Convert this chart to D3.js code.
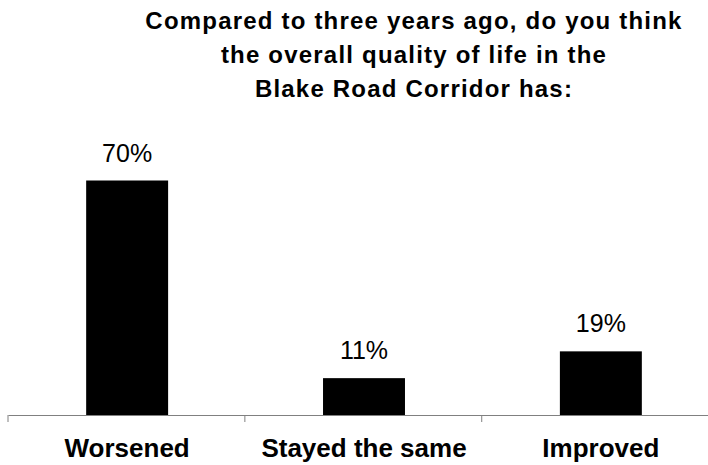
<!DOCTYPE html>
<html>
<head>
<meta charset="utf-8">
<script src="https://cdn.jsdelivr.net/npm/d3@7"></script>
<style>
  body { margin: 0; background: #fff; }
  text { font-family: "Liberation Sans", Arial, sans-serif; }
</style>
</head>
<body>
<script>
var categories = ["Worsened", "Stayed the same", "Improved"];
var values = [70, 11, 19];
var titleLines = ["Compared to three years ago, do you think",
                  "the overall quality of life in the",
                  "Blake Road Corridor has:"];

var width = 708, height = 465;
var margin = {top: 0, right: -12, bottom: 50, left: 8};

var svg = d3.select("body").append("svg")
    .attr("width", width)
    .attr("height", height);

// x bands run past the right edge, like the original
var x = d3.scaleBand()
    .domain(categories)
    .range([margin.left, width - margin.right])
    .paddingInner(0.654)
    .paddingOuter(0.33);

var y = d3.scaleLinear()
    .domain([0, 100])
    .range([415, 415 - 335]);

// bars
svg.selectAll(".bar")
    .data(values)
  .enter().append("rect")
    .attr("class", "bar")
    .attr("x", function(d, i) { return x(categories[i]); })
    .attr("y", function(d) { return y(d); })
    .attr("width", x.bandwidth())
    .attr("height", function(d) { return y(0) - y(d); })
    .attr("fill", "#000");

// value labels
svg.selectAll(".val")
    .data(values)
  .enter().append("text")
    .attr("class", "val")
    .attr("x", function(d, i) { return x(categories[i]) + x.bandwidth() / 2; })
    .attr("y", function(d) { return y(d) - 19; })
    .attr("text-anchor", "middle")
    .style("font-size", "25px")
    .text(function(d) { return d + "%"; });

// x axis
var xAxis = d3.axisBottom(x).tickSize(0).tickSizeOuter(0).tickFormat("");
var ax = svg.append("g")
    .attr("transform", "translate(0," + y(0) + ")")
    .call(xAxis);
ax.select(".domain").attr("stroke", "#808080");

// tick marks between categories
var step = x.step();
var bounds = [margin.left, margin.left + step, margin.left + 2 * step, margin.left + 3 * step];
svg.selectAll(".tk")
    .data(bounds)
  .enter().append("line")
    .attr("x1", function(d) { return d; })
    .attr("x2", function(d) { return d; })
    .attr("y1", y(0))
    .attr("y2", y(0) + 7)
    .attr("stroke", "#808080");

// category labels
svg.selectAll(".cat")
    .data(categories)
  .enter().append("text")
    .attr("class", "cat")
    .attr("x", function(d) { return x(d) + x.bandwidth() / 2; })
    .attr("y", 457)
    .attr("text-anchor", "middle")
    .style("font-size", "26px")
    .style("font-weight", "bold")
    .text(function(d) { return d; });

// title
svg.selectAll(".title")
    .data(titleLines)
  .enter().append("text")
    .attr("class", "title")
    .attr("x", 414)
    .attr("y", function(d, i) { return 29 + i * 34; })
    .attr("text-anchor", "middle")
    .style("font-size", "24px")
    .style("font-weight", "bold")
    .style("letter-spacing", "1.2px")
    .text(function(d) { return d; });
</script>
</body>
</html>
